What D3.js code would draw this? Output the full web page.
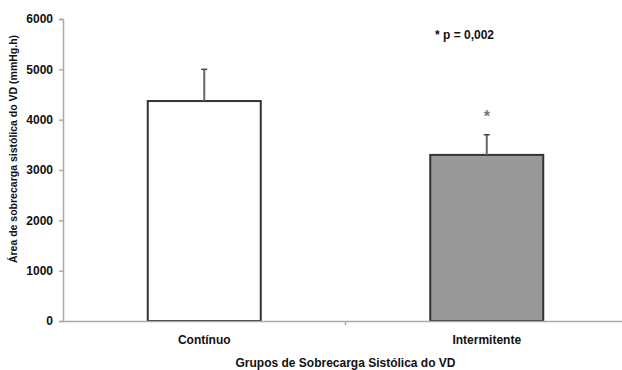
<!DOCTYPE html>
<html>
<head>
<meta charset="utf-8">
<script src="https://cdn.jsdelivr.net/npm/d3@7/dist/d3.min.js"></script>
<style>
  html, body { margin: 0; padding: 0; background: #fff; }
  svg { display: block; font-family: "Liberation Sans", Arial, sans-serif; }
</style>
</head>
<body>
<svg id="chart" width="622" height="370"></svg>
<script>
// Right-ventricle systolic overload area by group
const categories = ["Contínuo", "Intermitente"];
const means = [4370, 3300];
const errorTops = [5000, 3700];
const fills = ["#ffffff", "#999999"];
const yTicks = [0, 1000, 2000, 3000, 4000, 5000, 6000];
const significance = ["", "*"];
const pLabel = "* p = 0,002";
const xTitle = "Grupos de Sobrecarga Sistólica do VD";
const yTitle = "Área de sobrecarga sistólica do VD (mmHg.h)";

const svg = d3.select("#chart");
const margin = { left: 63, right: -6, top: 19, bottom: 49 };
const W = 622, H = 370;

const x = d3.scaleBand()
  .domain(categories)
  .range([margin.left, W - margin.right])
  .paddingInner(0.6)
  .paddingOuter(0.3);

const y = d3.scaleLinear()
  .domain([0, 6000])
  .range([H - margin.bottom, margin.top]);

// Bars
svg.selectAll("rect.bar")
  .data(categories)
  .join("rect")
  .attr("class", "bar")
  .attr("x", d => x(d))
  .attr("width", x.bandwidth())
  .attr("y", (d, i) => y(means[i]))
  .attr("height", (d, i) => y(0) - y(means[i]))
  .attr("fill", (d, i) => fills[i])
  .attr("stroke", "#333")
  .attr("stroke-width", 2);

// Error bars (upper only)
const eb = svg.selectAll("g.err").data(categories).join("g").attr("class", "err");
eb.append("line")
  .attr("x1", d => x(d) + x.bandwidth() / 2)
  .attr("x2", d => x(d) + x.bandwidth() / 2)
  .attr("y1", (d, i) => y(means[i]))
  .attr("y2", (d, i) => y(errorTops[i]))
  .attr("stroke", "#666")
  .attr("stroke-width", 2);
eb.append("line")
  .attr("x1", d => x(d) + x.bandwidth() / 2 - 3)
  .attr("x2", d => x(d) + x.bandwidth() / 2 + 3)
  .attr("y1", (d, i) => y(errorTops[i]))
  .attr("y2", (d, i) => y(errorTops[i]))
  .attr("stroke", "#444")
  .attr("stroke-width", 1.5);

// Significance marker
svg.selectAll("text.sig").data(categories).join("text")
  .attr("class", "sig")
  .attr("x", d => x(d) + x.bandwidth() / 2)
  .attr("y", (d, i) => y(errorTops[i]) - 13)
  .attr("text-anchor", "middle")
  .attr("font-size", 16)
  .attr("font-weight", "bold")
  .attr("fill", "#777")
  .text((d, i) => significance[i]);

// Y axis
const yAxis = svg.append("g")
  .attr("transform", `translate(${margin.left},0)`)
  .call(d3.axisLeft(y).tickValues(yTicks).tickSize(4).tickPadding(6).tickFormat(d3.format("d")));
yAxis.select(".domain").attr("stroke", "#aaa").attr("stroke-width", 1.5);
yAxis.selectAll(".tick line").attr("stroke", "#aaa").attr("stroke-width", 1.5);
yAxis.selectAll(".tick text")
  .attr("font-size", 12).attr("font-weight", "bold").attr("fill", "#111")
  .attr("font-family", "Liberation Sans, Arial, sans-serif");

// X axis
const xAxis = svg.append("g")
  .attr("transform", `translate(0,${y(0)})`)
  .call(d3.axisBottom(x).tickSize(0).tickPadding(14).tickSizeOuter(0));
xAxis.select(".domain").attr("stroke", "#aaa").attr("stroke-width", 1.5);
xAxis.selectAll(".tick text")
  .attr("font-size", 12).attr("font-weight", "bold").attr("fill", "#111")
  .attr("font-family", "Liberation Sans, Arial, sans-serif");

// Middle separator tick between the two groups
const midX = (x(categories[0]) + x.bandwidth() + x(categories[1])) / 2;
svg.append("line")
  .attr("x1", midX).attr("x2", midX)
  .attr("y1", y(0)).attr("y2", y(0) + 4)
  .attr("stroke", "#aaa").attr("stroke-width", 1.5);

// Axis titles
svg.append("text")
  .attr("x", midX)
  .attr("y", 367)
  .attr("text-anchor", "middle")
  .attr("font-size", 12).attr("font-weight", "bold").attr("fill", "#111")
  .text(xTitle);

svg.append("text")
  .attr("transform", `translate(17,${(y(0) + y(6000)) / 2 - 21}) rotate(-90)`)
  .attr("text-anchor", "middle")
  .attr("font-size", 10.5).attr("font-weight", "bold").attr("fill", "#111")
  .text(yTitle);

// p-value note
svg.append("text")
  .attr("x", 435)
  .attr("y", 39)
  .attr("font-size", 12).attr("font-weight", "bold").attr("fill", "#111")
  .text(pLabel);
</script>
</body>
</html>
